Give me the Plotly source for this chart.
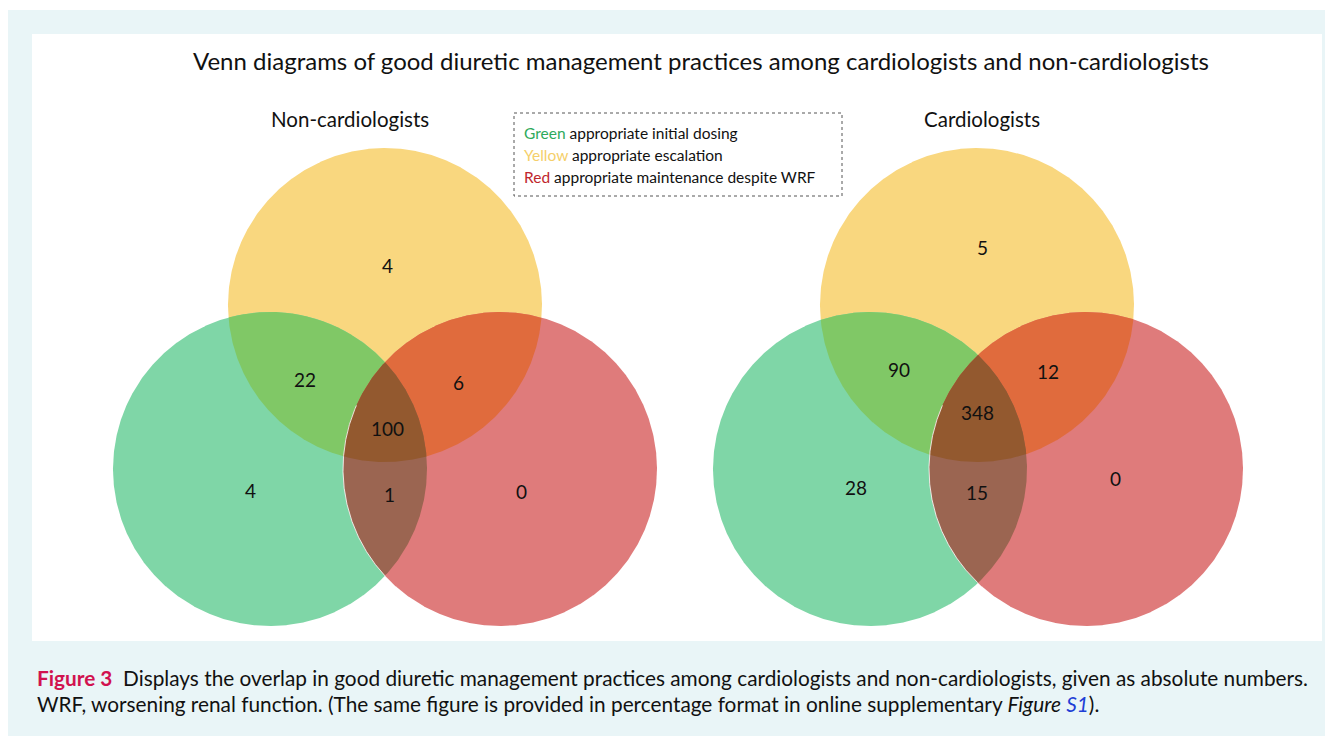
import numpy as np
import plotly.graph_objects as go

# ---------------- data ----------------
title_text = "Venn diagrams of good diuretic management practices among cardiologists and non-cardiologists"
group_names = ["Non-cardiologists", "Cardiologists"]
region_keys = ["Y", "G", "R", "GY", "YR", "GR", "GYR"]
noncardio_counts = [4, 4, 0, 22, 6, 1, 100]
cardio_counts = [5, 28, 0, 90, 12, 15, 348]
legend_words = ["Green", "Yellow", "Red"]
legend_texts = ["appropriate initial dosing", "appropriate escalation", "appropriate maintenance despite WRF"]

# ---------------- styles / layout ----------------
W, H = 1333, 736
OFF = 8  # default page body margin, compensated in axis ranges
FONT = "Lato, 'Open Sans', sans-serif"
region_colors = {
    "Y": "#f9d77f", "G": "#7fd6a7", "R": "#df7b7b",
    "GY": "#80c866", "YR": "#e06b3d", "GR": "#9b6551", "GYR": "#93592f",
}
word_colors = ["#2eaa5c", "#f5cf6a", "#c0262d"]
R_CIRC = 157
centres = [
    {"Y": (385, 305), "G": (270, 469), "R": (500, 469)},
    {"Y": (977, 305), "G": (870, 469), "R": (1086, 469)},
]
label_pos = [
    {"Y": (387, 265), "G": (250, 490), "R": (521, 491), "GY": (305, 379),
     "YR": (458, 382), "GR": (389, 494), "GYR": (387, 428)},
    {"Y": (982, 247), "G": (856, 487), "R": (1115, 478), "GY": (899, 369),
     "YR": (1048, 371), "GR": (977, 492), "GYR": (977, 412)},
]
subtitle_x = [350, 982]


def region_polygon(circles):
    """Boundary of the intersection of the given circles (convex)."""
    t = np.linspace(0, 2 * np.pi, 1440, endpoint=False)
    pts = []
    for (cx, cy) in circles:
        px = cx + R_CIRC * np.cos(t)
        py = cy + R_CIRC * np.sin(t)
        mask = np.ones_like(px, dtype=bool)
        for (ox, oy) in circles:
            if (ox, oy) == (cx, cy):
                continue
            mask &= (px - ox) ** 2 + (py - oy) ** 2 <= R_CIRC ** 2 + 1e-6
        pts.append(np.column_stack([px[mask], py[mask]]))
    pts = np.vstack(pts)
    c = pts.mean(axis=0)
    ang = np.arctan2(pts[:, 1] - c[1], pts[:, 0] - c[0])
    pts = pts[np.argsort(ang)]
    pts = np.vstack([pts, pts[:1]])
    return pts[:, 0], pts[:, 1]


fig = go.Figure()
shapes = []
annotations = []

shapes.append(dict(type="rect", xref="x", yref="y", x0=8, x1=W + 20, y0=10, y1=H + 20,
                   fillcolor="#e9f5f7", line=dict(width=0), layer="below"))
shapes.append(dict(type="rect", xref="x", yref="y", x0=32, x1=1322, y0=34, y1=641,
                   fillcolor="#ffffff", line=dict(width=0), layer="below"))

for gi in range(2):
    cen = centres[gi]
    counts = noncardio_counts if gi == 0 else cardio_counts
    for key in region_keys:
        circles = [cen[k] for k in ["G", "Y", "R"] if k in key]
        xs, ys = region_polygon(circles)
        fig.add_trace(go.Scatter(x=xs, y=ys, mode="lines", fill="toself",
                                 fillcolor=region_colors[key], line=dict(width=0),
                                 hoverinfo="skip", showlegend=False))
    t = np.linspace(0, 2 * np.pi, 1440)
    rx = cen["R"][0] + R_CIRC * np.cos(t)
    ry = cen["R"][1] + R_CIRC * np.sin(t)
    inside = (rx - cen["G"][0]) ** 2 + (ry - cen["G"][1]) ** 2 <= R_CIRC ** 2
    inside &= (ry > cen["Y"][1] + 100)
    fig.add_trace(go.Scatter(x=np.where(inside, rx, np.nan), y=np.where(inside, ry, np.nan),
                             mode="lines", line=dict(color="rgba(255,255,255,0.8)", width=1),
                             hoverinfo="skip", showlegend=False))
    for key, val in zip(region_keys, counts):
        x, y = label_pos[gi][key]
        annotations.append(dict(x=x, y=y, xref="x", yref="y", text=str(val), showarrow=False,
                                font=dict(family=FONT, size=19, color="#111111")))
    annotations.append(dict(x=subtitle_x[gi], y=119, xref="x", yref="y", text=group_names[gi],
                            showarrow=False, font=dict(family=FONT, size=20.5, color="#111111")))

annotations.append(dict(x=701, y=60, xref="x", yref="y", text=title_text, showarrow=False,
                        font=dict(family=FONT, size=24, color="#111111")))

shapes.append(dict(type="rect", xref="x", yref="y", x0=514, x1=842, y0=113, y1=196,
                   fillcolor="#ffffff", line=dict(color="#555555", width=1, dash="dot")))
for i, (w, t_, c) in enumerate(zip(legend_words, legend_texts, word_colors)):
    annotations.append(dict(x=522, y=133 + 22 * i, xref="x", yref="y", xanchor="left",
                            text=f"<span style='color:{c}'>{w}</span> {t_}", showarrow=False,
                            font=dict(family=FONT, size=15.5, color="#111111")))

cap1 = ("<b><span style='color:#d1124f'>Figure 3</span></b>  Displays the overlap in good diuretic "
        "management practices among cardiologists and non-cardiologists, given as absolute numbers.")
cap2 = ("WRF, worsening renal function. (The same figure is provided in percentage format in online "
        "supplementary <i>Figure</i> <i><span style='color:#1f3fd6'>S1</span></i>).")
annotations.append(dict(x=35, y=677, xref="x", yref="y", xanchor="left", text=cap1, showarrow=False,
                        font=dict(family=FONT, size=20.8, color="#111111")))
annotations.append(dict(x=35, y=703, xref="x", yref="y", xanchor="left", text=cap2, showarrow=False,
                        font=dict(family=FONT, size=20.8, color="#111111")))

fig.update_layout(
    width=W, height=H, autosize=False,
    margin=dict(l=0, r=0, t=0, b=0, pad=0),
    paper_bgcolor="#ffffff", plot_bgcolor="#ffffff",
    xaxis=dict(range=[OFF, OFF + W], visible=False, fixedrange=True),
    yaxis=dict(range=[OFF + H, OFF], visible=False, fixedrange=True),
    shapes=shapes, annotations=annotations, showlegend=False,
)
fig.write_html("out.html")
